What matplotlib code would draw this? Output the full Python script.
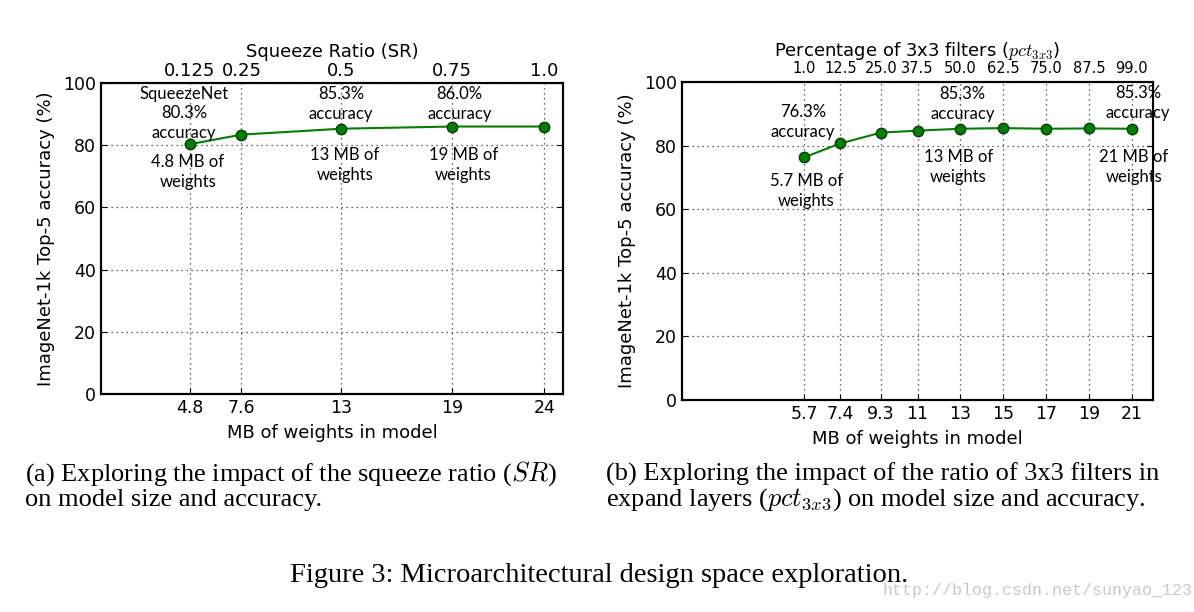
import matplotlib
matplotlib.use("Agg")
import matplotlib.pyplot as plt

plt.rcParams['mathtext.fontset'] = 'cm'

# (a) squeeze ratio sweep
sr_labels = ['0.125', '0.25', '0.5', '0.75', '1.0']
sr_mb = [4.8, 7.6, 13, 19, 24]
sr_mb_labels = ['4.8', '7.6', '13', '19', '24']
sr_acc = [80.3, 83.4, 85.3, 86.0, 86.0]

# (b) percentage of 3x3 filters sweep
pct_labels = ['1.0', '12.5', '25.0', '37.5', '50.0', '62.5', '75.0', '87.5', '99.0']
pct_mb = [5.7, 7.4, 9.3, 11, 13, 15, 17, 19, 21]
pct_mb_labels = ['5.7', '7.4', '9.3', '11', '13', '15', '17', '19', '21']
pct_acc = [76.3, 80.7, 84.1, 84.7, 85.3, 85.5, 85.3, 85.4, 85.3]

ann = dict(ha='center', va='center', family='Lato', fontsize=12,
           linespacing=1.3, clip_on=False)


def setup(ax, xs, ys, xlabels, top_labels, top_title, top_size, top_pad, xmax):
    ax.plot(xs, ys, color='#008000', lw=1.5, marker='o', ms=7.5,
            mfc='#008000', mec='#0a3a0a', mew=1.0, zorder=3)
    ax.set_xlim(0, xmax)
    ax.set_ylim(0, 100)
    ax.set_yticks(range(0, 101, 20))
    ax.set_xticks(xs)
    ax.set_xticklabels(xlabels, fontsize=12.5)
    ax.tick_params(axis='y', labelsize=12.5)
    ax.tick_params(direction='in', length=4, top=False, right=True)
    ax.grid(True, linestyle=(0, (1, 3)), color='#333333', lw=0.9)
    ax.set_xlabel('MB of weights in model', fontsize=13, labelpad=5)
    ax.set_ylabel('ImageNet-1k Top-5 accuracy (%)', fontsize=13, labelpad=6)
    for s in ax.spines.values():
        s.set_linewidth(1.5)
    top = ax.twiny()
    top.set_xlim(0, xmax)
    top.set_xticks(xs)
    top.set_xticklabels(top_labels, fontsize=top_size)
    top.tick_params(direction='in', length=0, pad=top_pad)
    top.set_xlabel(top_title, fontsize=13, labelpad=4)
    for s in top.spines.values():
        s.set_linewidth(1.5)
    return top


fig = plt.figure(figsize=(11.94, 6.12), dpi=100)

ax1 = fig.add_axes([0.0846, 0.3562, 0.3869, 0.5082])
setup(ax1, sr_mb, sr_acc, sr_mb_labels, sr_labels, 'Squeeze Ratio (SR)', 13, 2, 25)

ax1.text(4.5, 90.2, 'SqueezeNet\n80.3%\naccuracy', **ann)
ax1.text(4.7, 71.4, '4.8 MB of\nweights', **ann)
ax1.text(13.0, 93.2, '85.3%\naccuracy', **ann)
ax1.text(13.2, 73.6, '13 MB of\nweights', **ann)
ax1.text(19.4, 93.2, '86.0%\naccuracy', **ann)
ax1.text(19.6, 73.6, '19 MB of\nweights', **ann)

ax2 = fig.add_axes([0.5712, 0.3464, 0.3945, 0.5196])
setup(ax2, pct_mb, pct_acc, pct_mb_labels, pct_labels,
      r'Percentage of 3x3 filters ($pct_{3x3}$)', 10.5, 4, 22)

ax2.text(5.65, 87.4, '76.3%\naccuracy', **ann)
ax2.text(5.8, 65.7, '5.7 MB of\nweights', **ann)
ax2.text(13.1, 93.2, '85.3%\naccuracy', **ann)
ax2.text(12.9, 73.3, '13 MB of\nweights', **ann)
ax2.text(21.3, 93.4, '85.3%\naccuracy', **ann)
ax2.text(21.1, 73.3, '21 MB of\nweights', **ann)

# captions
cap = dict(family='Liberation Serif', fontsize=19, va='center', ha='left')
fig.text(25 / 1194, 1 - 474 / 612,
         '(a) Exploring the impact of the squeeze ratio ($SR$)', **cap)
fig.text(25 / 1194, 1 - 500 / 612, 'on model size and accuracy.', **cap)
fig.text(606 / 1194, 1 - 474 / 612,
         '(b) Exploring the impact of the ratio of 3x3 filters in', **cap)
fig.text(606 / 1194, 1 - 500 / 612,
         'expand layers ($pct_{3x3}$) on model size and accuracy.', **cap)
fig.text(599 / 1194, 1 - 576 / 612,
         'Figure 3: Microarchitectural design space exploration.',
         family='Liberation Serif', fontsize=20.5, ha='center', va='center')
fig.text(1192 / 1194, 1 - 590 / 612, 'http://blog.csdn.net/sunyao_123',
         family='Liberation Mono', fontsize=12, color='#c8c8c8',
         ha='right', va='center')

fig.savefig('out.png', dpi=100)
